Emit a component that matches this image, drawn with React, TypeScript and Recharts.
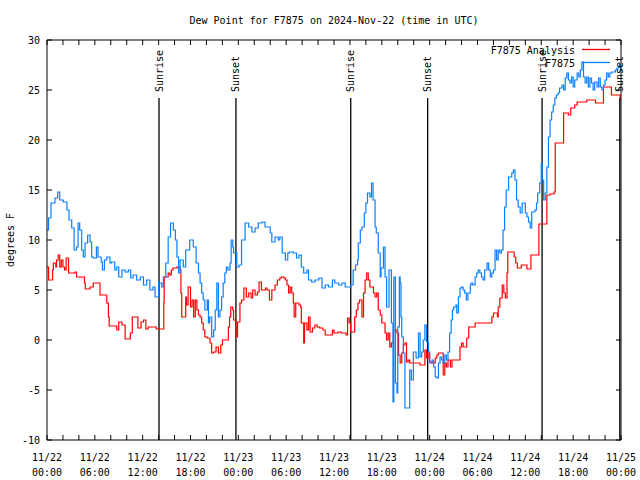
import React from 'react';
import { LineChart, Line, XAxis, YAxis, ReferenceLine, ReferenceDot, Legend } from 'recharts';

const FONT = "'DejaVu Sans Mono', 'Liberation Mono', monospace";

// hours since 11/22 00:00 UTC, dew point (F)
const obsPoints: [number, number][] = [
  [0.0, 11.0], [0.2, 12.2], [0.5, 13.7], [1.0, 14.2], [1.34, 14.8], [1.6, 14.0], [2.05, 13.8], [2.5, 13.0],
  [2.76, 12.0], [3.1, 11.2], [3.4, 9.0], [3.7, 9.3], [3.9, 11.7], [4.1, 11.0], [4.35, 9.0], [4.55, 8.3],
  [4.77, 9.7], [5.1, 10.5], [5.4, 9.8], [5.6, 8.3], [5.8, 8.2], [6.2, 9.3], [6.4, 8.3], [6.8, 7.8],
  [6.95, 7.0], [7.2, 8.0], [7.5, 8.3], [7.9, 7.7], [8.1, 7.8], [8.5, 7.0], [8.75, 7.3], [9.0, 6.3],
  [9.4, 7.0], [9.8, 6.8], [10.2, 7.0], [10.5, 6.2], [10.8, 6.5], [11.25, 6.0], [11.7, 6.3], [12.1, 5.5],
  [12.5, 6.0], [12.9, 5.0], [13.3, 5.3], [13.55, 4.3], [14.0, 5.7], [14.4, 5.3], [14.6, 6.3], [14.9, 7.7],
  [15.2, 10.3], [15.5, 11.7], [15.85, 11.0], [16.1, 10.0], [16.3, 8.3], [16.5, 6.7], [16.7, 8.0], [17.1, 7.3],
  [17.4, 9.0], [17.9, 10.0], [18.35, 9.3], [18.7, 7.7], [19.0, 6.7], [19.2, 5.7], [19.4, 4.7], [19.6, 4.0],
  [19.8, 3.0], [20.1, 4.0], [20.25, 1.7], [20.4, 2.3], [20.66, 0.3], [20.9, 1.0], [21.1, 3.0], [21.3, 5.7],
  [21.5, 2.3], [21.7, 3.0], [21.9, 4.3], [22.1, 5.7], [22.3, 6.7], [22.5, 7.3], [22.7, 7.0], [22.96, 7.7],
  [23.1, 10.0], [23.3, 9.3], [23.4, 8.7], [23.8, 7.3], [24.1, 7.5], [24.4, 10.0], [24.85, 11.7], [25.3, 11.3],
  [25.7, 10.8], [26.1, 11.2], [26.5, 11.7], [26.95, 11.8], [27.35, 11.3], [27.8, 11.3], [28.0, 10.7], [28.2, 9.8],
  [28.6, 10.3], [29.0, 10.0], [29.2, 10.3], [29.5, 8.7], [29.9, 8.0], [30.2, 8.7], [30.4, 8.8], [30.9, 8.7],
  [31.3, 8.2], [31.6, 8.5], [31.9, 7.3], [32.2, 6.7], [32.6, 7.0], [32.8, 6.0], [33.2, 5.8], [33.6, 6.0],
  [34.1, 6.2], [34.5, 5.2], [34.9, 5.5], [35.3, 5.3], [35.8, 6.0], [36.1, 5.7], [36.6, 5.5], [37.0, 5.7],
  [37.4, 5.3], [37.8, 5.3], [38.1, 5.5], [38.4, 7.0], [38.7, 7.5], [38.95, 8.0], [39.05, 9.7], [39.3, 11.0],
  [39.5, 11.3], [39.8, 12.7], [40.0, 13.7], [40.2, 14.7], [40.5, 14.3], [40.7, 15.7], [40.9, 14.0], [41.15, 11.3],
  [41.3, 10.7], [41.55, 8.7], [41.8, 6.3], [41.9, 7.2], [42.2, 9.3], [42.4, 6.3], [42.6, 3.3], [42.9, 7.0],
  [43.2, 1.7], [43.4, -6.2], [43.5, 6.3], [43.7, -4.3], [43.9, -5.3], [44.0, 1.3], [44.2, 6.3], [44.3, 5.7],
  [44.4, 2.3], [44.5, 0.3], [44.7, -1.3], [44.9, -6.8], [45.3, -6.8], [45.5, -3.0], [45.7, -4.0], [45.95, -1.2],
  [46.1, -1.2], [46.3, -1.8], [46.6, 0.7], [46.8, -1.7], [47.0, -1.2], [47.2, 0.0], [47.4, 1.5], [47.6, -0.2],
  [47.85, -1.2], [48.0, -2.3], [48.3, -2.0], [48.5, -2.7], [48.7, -3.7], [48.9, -3.8], [49.1, -2.3], [49.3, -1.7],
  [49.5, -2.0], [49.7, -2.3], [49.9, -1.5], [50.1, -2.0], [50.3, -1.2], [50.5, 0.7], [50.7, 2.0], [50.85, 3.0],
  [51.0, 3.3], [51.3, 3.5], [51.4, 2.7], [51.6, 4.3], [51.8, 5.2], [52.0, 5.3], [52.2, 5.0], [52.4, 4.7],
  [52.6, 4.0], [52.8, 4.7], [53.1, 5.5], [53.2, 5.7], [53.4, 5.5], [53.7, 6.3], [53.9, 6.7], [54.1, 7.0],
  [54.3, 6.7], [54.5, 6.3], [54.7, 6.0], [54.9, 7.0], [55.2, 7.7], [55.4, 7.0], [55.6, 6.3], [55.8, 6.7],
  [56.0, 7.0], [56.2, 9.0], [56.4, 8.0], [56.6, 9.0], [56.8, 8.7], [57.0, 9.0], [57.2, 11.0], [57.4, 13.3],
  [57.6, 15.0], [57.9, 16.3], [58.0, 16.3], [58.3, 16.7], [58.5, 17.0], [58.7, 16.0], [58.9, 14.0], [59.1, 13.3],
  [59.35, 12.7], [59.6, 13.7], [59.8, 13.7], [60.0, 12.7], [60.2, 12.3], [60.4, 11.8], [60.6, 11.2], [60.8, 12.8],
  [61.0, 12.8], [61.2, 13.0], [61.4, 13.7], [61.55, 14.7], [61.8, 15.7], [62.0, 17.7], [62.1, 16.0], [62.3, 14.0],
  [62.5, 14.7], [62.7, 17.3], [62.9, 20.3], [63.1, 22.0], [63.3, 22.8], [63.5, 23.5], [63.7, 24.2], [63.9, 24.5],
  [64.1, 24.7], [64.3, 25.2], [64.6, 25.5], [64.8, 25.0], [65.0, 26.2], [65.2, 26.7], [65.4, 26.0], [65.6, 25.7],
  [65.8, 26.3], [66.0, 25.3], [66.2, 26.0], [66.5, 26.7], [66.7, 26.3], [66.9, 27.0], [67.1, 27.8], [67.3, 26.3],
  [67.5, 25.7], [67.7, 26.3], [67.9, 25.3], [68.1, 26.2], [68.3, 25.7], [68.5, 25.0], [68.7, 25.8], [69.0, 25.3],
  [69.2, 26.2], [69.4, 25.3], [69.6, 25.0], [69.8, 25.5], [70.0, 26.0], [70.2, 26.7], [70.4, 26.3], [70.6, 26.7],
  [70.85, 26.8], [71.0, 26.8], [71.3, 27.0], [71.5, 27.2], [71.7, 27.3], [71.9, 27.5], [72.0, 27.0],
];

const analysisPoints: [number, number][] = [
  [0.0, 7.3], [0.2, 6.0], [0.7, 7.0], [0.8, 7.7], [1.1, 7.3], [1.2, 8.0], [1.4, 8.5], [1.6, 7.3],
  [1.8, 8.0], [2.0, 7.3], [2.2, 7.0], [2.4, 8.2], [2.7, 6.7], [3.5, 6.8], [3.7, 6.3], [4.7, 5.7],
  [4.8, 5.1], [5.4, 5.3], [5.8, 5.7], [6.65, 4.5], [7.5, 3.7], [7.7, 2.3], [7.8, 1.4], [8.75, 1.0],
  [9.0, 1.8], [9.4, 1.5], [9.8, 0.1], [10.45, 0.7], [10.7, 2.3], [11.4, 1.2], [11.8, 1.8], [12.1, 2.0],
  [12.4, 1.1], [12.7, 1.3], [13.7, 1.1], [14.65, 3.7], [14.7, 6.3], [15.2, 6.7], [15.4, 6.5], [15.6, 7.0],
  [15.8, 7.2], [16.3, 7.3], [16.7, 7.0], [16.8, 4.7], [16.9, 2.3], [17.4, 4.3], [17.5, 3.5], [17.7, 5.3],
  [18.0, 3.3], [18.2, 4.0], [18.4, 2.3], [18.6, 4.0], [18.8, 3.0], [19.0, 2.5], [19.2, 2.3], [19.4, 1.7],
  [19.6, 1.0], [19.8, 0.3], [20.1, 0.2], [20.45, -0.3], [20.65, -1.3], [20.9, -1.2], [21.2, -0.7], [21.5, -1.3],
  [21.8, -0.5], [22.0, 0.0], [22.75, 1.3], [22.9, 2.3], [23.05, 3.3], [23.3, 3.0], [23.4, 2.0], [23.7, 0.3],
  [23.9, 1.8], [24.2, 3.7], [24.4, 4.0], [24.7, 5.2], [25.0, 4.3], [25.3, 4.7], [25.6, 4.2], [25.8, 5.0],
  [26.1, 4.5], [26.4, 4.8], [26.6, 5.8], [26.9, 5.0], [27.4, 5.2], [27.6, 5.0], [27.9, 4.0], [28.2, 5.0],
  [28.6, 5.5], [28.9, 6.0], [29.2, 6.2], [29.4, 6.3], [29.7, 6.2], [29.9, 6.0], [30.1, 5.5], [30.3, 4.7],
  [30.5, 5.3], [30.7, 4.7], [30.9, 3.7], [31.0, 2.3], [31.2, 3.7], [31.6, 3.5], [31.8, 3.3], [31.9, 1.7],
  [32.2, -0.3], [32.3, 1.7], [32.6, 1.0], [32.8, 2.3], [33.0, 0.8], [33.3, 1.2], [33.6, 1.5], [33.9, 1.3],
  [34.2, 1.2], [34.6, 1.0], [34.9, 0.5], [35.8, 1.0], [36.0, 0.7], [36.5, 0.8], [36.9, 0.7], [37.5, 0.5],
  [37.7, 2.2], [37.9, 1.7], [38.1, 0.8], [38.6, 2.3], [38.8, 3.0], [39.0, 3.7], [39.2, 4.0], [39.5, 2.3],
  [39.7, 4.7], [39.9, 6.0], [40.1, 6.7], [40.3, 6.0], [40.5, 5.3], [40.95, 4.7], [41.15, 4.3], [41.35, 4.7],
  [41.55, 3.0], [41.8, 2.5], [42.0, 1.7], [42.4, 0.7], [42.6, 0.0], [42.8, 0.7], [43.0, -0.7], [43.2, -0.3],
  [43.45, 1.0], [43.9, 0.7], [44.1, -1.5], [44.3, -2.3], [44.5, -1.3], [44.7, -0.5], [44.9, -0.3], [45.1, -2.2],
  [45.3, -2.0], [45.5, -2.3], [46.8, -2.5], [47.4, -1.0], [47.6, -1.8], [47.8, -1.3], [48.0, -2.2], [48.3, -2.3],
  [48.7, -1.8], [48.9, -1.5], [49.1, -1.3], [49.7, -3.5], [49.9, -2.3], [50.1, -2.7], [50.3, -2.0], [50.6, -2.7],
  [50.8, -2.0], [51.8, -0.7], [52.0, -0.3], [52.2, -0.7], [52.65, 0.2], [52.9, 1.3], [53.7, 1.7], [55.8, 2.3],
  [56.0, 2.7], [56.5, 2.3], [56.6, 3.3], [56.8, 4.2], [57.1, 5.5], [57.3, 4.7], [57.5, 4.2], [57.7, 6.7],
  [57.8, 8.8], [58.6, 8.3], [58.8, 7.7], [59.0, 7.2], [59.5, 7.5], [60.2, 7.1], [60.7, 8.5], [61.7, 11.6],
  [62.7, 14.5], [63.1, 14.6], [63.6, 14.8], [63.75, 19.7], [64.8, 22.7], [65.4, 22.5], [65.7, 23.2], [66.2, 23.5],
  [66.5, 23.8], [67.7, 24.0], [68.8, 23.7], [69.8, 25.3], [70.8, 24.5], [71.9, 24.0], [72.0, 24.0],
];

const xTicks = [0, 2, 4, 6, 8, 10, 12, 14, 16, 18, 20, 22, 24, 26, 28, 30, 32, 34, 36, 38, 40, 42, 44, 46, 48, 50, 52, 54, 56, 58, 60, 62, 64, 66, 68, 70, 72];
const majorHours = [0, 6, 12, 18, 24, 30, 36, 42, 48, 54, 60, 66, 72];
const dateLabels = ['11/22', '11/22', '11/22', '11/22', '11/23', '11/23', '11/23', '11/23', '11/24', '11/24', '11/24', '11/24', '11/25'];
const timeLabels = ['00:00', '06:00', '12:00', '18:00', '00:00', '06:00', '12:00', '18:00', '00:00', '06:00', '12:00', '18:00', '00:00'];
const yTicks = [-10, -5, 0, 5, 10, 15, 20, 25, 30];

const sunHours = [14.05, 23.7, 38.1, 47.75, 62.1, 71.85];
const sunLabels = ['Sunrise', 'Sunset', 'Sunrise', 'Sunset', 'Sunrise', 'Sunset'];
const sunLineTop = 24.2;

const seriesNames = ['F7875 Analysis', 'F7875'];
const seriesColors = ['#ff0000', '#0a80ff'];

const obsData = obsPoints.map(([h, v]) => ({ h, v }));
const anaData = analysisPoints.map(([h, v]) => ({ h, v }));

const TL = 5;

const BottomTick = (p: any) => {
  const { x, y, payload } = p;
  const idx = majorHours.indexOf(payload.value);
  return (
    <g>
      <line x1={x} x2={x} y1={y} y2={y - TL} stroke="#000" strokeWidth={1} />
      {idx >= 0 && (
        <text x={x} y={y + 21} textAnchor="middle" fontFamily={FONT} fontSize={10} fill="#000">
          <tspan x={x}>{dateLabels[idx]}</tspan>
          <tspan x={x} dy={15}>{timeLabels[idx]}</tspan>
        </text>
      )}
    </g>
  );
};

const TopTick = (p: any) => {
  const { x, y } = p;
  return <line x1={x} x2={x} y1={y} y2={y + TL} stroke="#000" strokeWidth={1} />;
};

const LeftTick = (p: any) => {
  const { x, y, payload } = p;
  return (
    <g>
      <line x1={x} x2={x + TL} y1={y} y2={y} stroke="#000" strokeWidth={1} />
      <text x={x - 7} y={y + 3.5} textAnchor="end" fontFamily={FONT} fontSize={10} fill="#000">
        {String(payload.value)}
      </text>
    </g>
  );
};

const RightTick = (p: any) => {
  const { x, y } = p;
  return <line x1={x} x2={x - TL} y1={y} y2={y} stroke="#000" strokeWidth={1} />;
};

const LegendBox = (props: any) => {
  const payload = [...(props.payload || [])].sort(
    (a: any, b: any) => seriesNames.indexOf(a.value) - seriesNames.indexOf(b.value)
  );
  return (
    <svg width={160} height={32} style={{ display: 'block', overflow: 'visible' }}>
      {payload.map((item: any, i: number) => (
        <g key={i}>
          <text x={105} y={13.5 + i * 13} textAnchor="end" fontFamily={FONT} fontSize={10} fill="#000">
            {item.value}
          </text>
          <line x1={112} x2={140} y1={9.5 + i * 13} y2={9.5 + i * 13} stroke={item.color} strokeWidth={1.3} />
        </g>
      ))}
    </svg>
  );
};

export default function App() {
  return (
    <div style={{ position: 'absolute', left: 0, top: 0, width: 640, height: 480, background: '#fff' }}>
      <LineChart width={640} height={480} margin={{ top: 39, right: 18, bottom: 10, left: 0 }}>
        <XAxis
          dataKey="h"
          type="number"
          domain={[0, 72]}
          ticks={xTicks}
          interval={0}
          tickSize={0}
          tickMargin={0}
          tickLine={false}
          tick={BottomTick}
          height={30}
          axisLine={{ stroke: '#000', strokeWidth: 1 }}
          allowDataOverflow
        />
        <XAxis
          xAxisId="top"
          orientation="top"
          dataKey="h"
          type="number"
          domain={[0, 72]}
          ticks={xTicks}
          interval={0}
          tickSize={0}
          tickMargin={0}
          tickLine={false}
          tick={TopTick}
          height={1}
          axisLine={{ stroke: '#000', strokeWidth: 1 }}
          allowDataOverflow
        />
        <YAxis
          type="number"
          domain={[-10, 30]}
          ticks={yTicks}
          interval={0}
          tickSize={0}
          tickMargin={0}
          tickLine={false}
          tick={LeftTick}
          width={47}
          axisLine={{ stroke: '#000', strokeWidth: 1 }}
          allowDataOverflow
        />
        <YAxis
          yAxisId="right"
          orientation="right"
          type="number"
          domain={[-10, 30]}
          ticks={yTicks}
          interval={0}
          tickSize={0}
          tickMargin={0}
          tickLine={false}
          tick={RightTick}
          width={1}
          axisLine={{ stroke: '#000', strokeWidth: 1 }}
          allowDataOverflow
        />
        {sunHours.map((t, i) => (
          <ReferenceLine
            key={'sl' + i}
            segment={[{ x: t, y: sunLineTop }, { x: t, y: -10 }]}
            stroke="#000"
            strokeWidth={1.3}
          />
        ))}
        <Line
          data={anaData}
          dataKey="v"
          name={seriesNames[0]}
          type="stepAfter"
          stroke={seriesColors[0]}
          strokeWidth={1.2}
          dot={false}
          isAnimationActive={false}
        />
        <Line
          data={obsData}
          dataKey="v"
          name={seriesNames[1]}
          type="stepAfter"
          stroke={seriesColors[1]}
          strokeWidth={1.2}
          dot={false}
          isAnimationActive={false}
        />
        {sunHours.map((t, i) => (
          <ReferenceDot
            key={'sd' + i}
            x={t}
            y={sunLineTop}
            r={0}
            shape={(p: any) => (
              <text
                x={p.cx + 3.5}
                y={p.cy - 6}
                transform={`rotate(-90 ${p.cx + 3.5} ${p.cy - 6})`}
                textAnchor="start"
                fontFamily={FONT}
                fontSize={10}
                fill="#000"
              >
                {sunLabels[i]}
              </text>
            )}
          />
        ))}
        <Legend
          layout="horizontal"
          verticalAlign="middle"
          align="center"
          content={LegendBox}
          wrapperStyle={{ position: 'absolute', left: 470, top: 40, width: 160, height: 32 }}
        />
      </LineChart>
      <svg width={640} height={480} style={{ position: 'absolute', left: 0, top: 0, pointerEvents: 'none' }}>
        <text x={334} y={24} textAnchor="middle" fontFamily={FONT} fontSize={10} fill="#000">
          Dew Point for F7875 on 2024-Nov-22 (time in UTC)
        </text>
        <text x={14} y={240} transform="rotate(-90 14 240)" textAnchor="middle" fontFamily={FONT} fontSize={10} fill="#000">
          degrees F
        </text>
      </svg>
    </div>
  );
}
